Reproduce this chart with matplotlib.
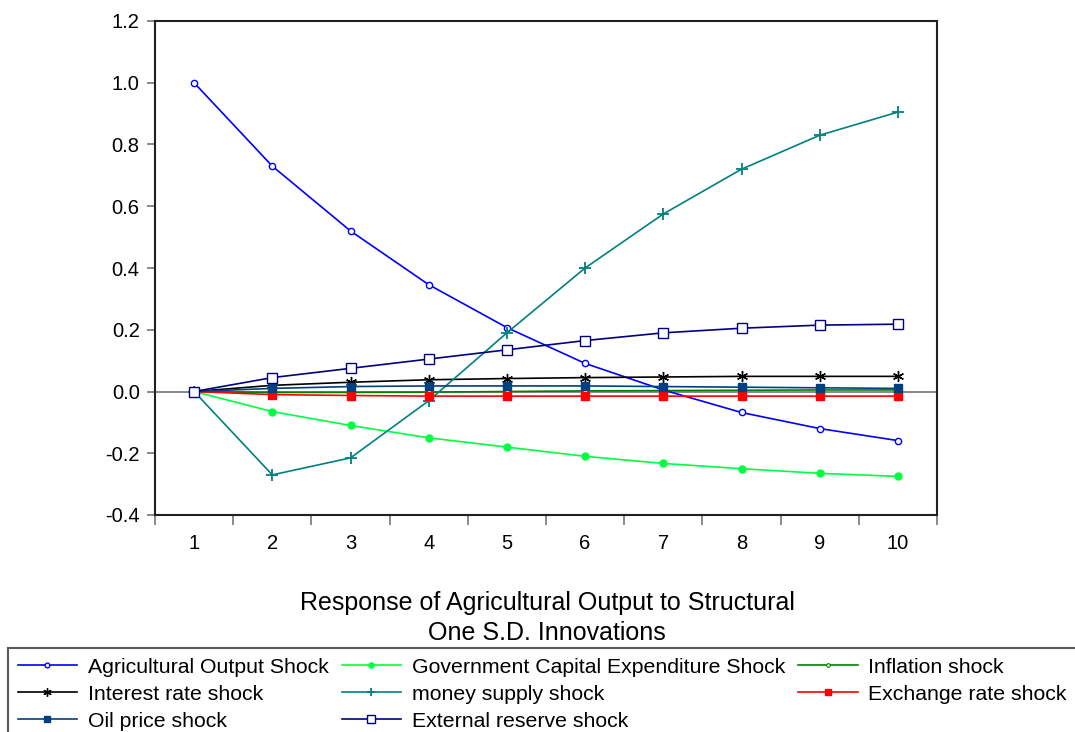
import numpy as np
import matplotlib
matplotlib.use("Agg")
import matplotlib.pyplot as plt

plt.rcParams['font.family'] = ['Liberation Sans', 'DejaVu Sans']

periods = np.arange(1, 11)

agric_output = [1.0, 0.73, 0.52, 0.346, 0.207, 0.091, 0.005, -0.068, -0.12, -0.159]
gov_capex = [0.0, -0.065, -0.11, -0.15, -0.18, -0.21, -0.233, -0.25, -0.265, -0.275]
inflation = [0.0, -0.003, -0.003, -0.002, 0.0, 0.002, 0.003, 0.004, 0.005, 0.005]
interest_rate = [0.0, 0.02, 0.03, 0.038, 0.042, 0.045, 0.047, 0.049, 0.049, 0.049]
money_supply = [0.0, -0.27, -0.215, -0.03, 0.19, 0.40, 0.575, 0.72, 0.83, 0.905]
exchange_rate = [0.0, -0.01, -0.013, -0.015, -0.015, -0.015, -0.015, -0.015, -0.015, -0.015]
oil_price = [0.0, 0.01, 0.016, 0.018, 0.018, 0.018, 0.016, 0.014, 0.012, 0.01]
ext_reserve = [0.0, 0.045, 0.075, 0.105, 0.135, 0.165, 0.19, 0.205, 0.215, 0.218]

labels = ["Agricultural Output Shock", "Government Capital Expenditure Shock",
          "Inflation shock", "Interest rate shock", "money supply shock",
          "Exchange rate shock", "Oil price shock", "External reserve shock"]

fig = plt.figure(figsize=(10.75, 7.32), dpi=100)
ax = fig.add_axes([155/1075, 1-515/732, (937-155)/1075, (515-21)/732])

ax.axhline(0, color='#808080', lw=1.3, zorder=1)

lw = 1.2
ax.plot(periods, agric_output, color='#0000ff', lw=lw, marker='o', ms=4.5,
        mfc='white', mec='#0000ff', mew=1.0, label=labels[0])
ax.plot(periods, gov_capex, color='#00ff40', lw=lw, marker='o', ms=5,
        mfc='#00ff40', mec='#00ff40', label=labels[1])
ax.plot(periods, inflation, color='#008000', lw=lw, marker='o', ms=3.5,
        mfc='white', mec='#008000', mew=0.8, label=labels[2])
ax.plot(periods, interest_rate, color='black', lw=lw, marker=(6, 2, 0), ms=8,
        mew=1.0, label=labels[3])
ax.plot(periods, money_supply, color='#008080', lw=lw, marker='+', ms=8,
        mew=1.3, label=labels[4])
ax.plot(periods, exchange_rate, color='#ff0000', lw=lw, marker='s', ms=6,
        mfc='#ff0000', mec='#ff0000', label=labels[5])
ax.plot(periods, oil_price, color='#004080', lw=lw, marker='s', ms=6,
        mfc='#004080', mec='#004080', label=labels[6])
ax.plot(periods, ext_reserve, color='#000080', lw=lw, marker='s', ms=7.5,
        mfc='white', mec='#000080', mew=1.0, label=labels[7])

ax.set_xlim(0.5, 10.5)
ax.set_ylim(-0.4, 1.2)
ax.set_yticks(np.arange(-0.4, 1.21, 0.2))
ax.set_yticklabels([f"{v:.1f}" for v in np.arange(-0.4, 1.21, 0.2)])
ax.set_xticks(np.arange(0.5, 10.6, 1.0))
ax.set_xticklabels([])
ax.set_xticks(periods, minor=True)
ax.set_xticklabels([str(p) for p in periods], minor=True)
ax.tick_params(axis='x', which='minor', length=0, pad=14, labelsize=14.5)
ax.tick_params(axis='x', which='major', length=7, width=1.3, color='#808080', direction='out')
ax.tick_params(axis='y', length=6, width=1.3, color='#808080', direction='out',
               pad=5, labelsize=14.5)
for s in ax.spines.values():
    s.set_linewidth(1.5)
    s.set_color('#202020')

fig.text(547/1075, 1-618/732, "Response of Agricultural Output to Structural\nOne S.D. Innovations",
         ha='center', va='center', fontsize=18, linespacing=1.3)

# legend fills column by column; reorder so rows read left to right
handles, hlabels = ax.get_legend_handles_labels()
order = [0, 3, 6, 1, 4, 7, 2, 5]
leg = fig.legend([handles[i] for i in order], [hlabels[i] for i in order],
                 loc='upper left', bbox_to_anchor=(8/1075, 1-648/732), ncol=3,
                 fontsize=15.35, frameon=True, fancybox=False, edgecolor='#303030',
                 handlelength=2.8, handletextpad=0.5, columnspacing=0.6,
                 labelspacing=0.38, borderpad=0.45, borderaxespad=0.0,
                 markerscale=0.75)
leg.get_frame().set_linewidth(1.5)

fig.savefig("out.png", dpi=100)
